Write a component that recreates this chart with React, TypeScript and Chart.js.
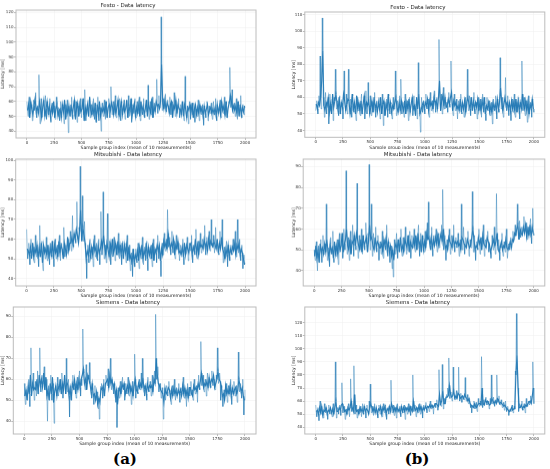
import { useEffect, useRef } from "react";
import { Chart, registerables } from "chart.js";

Chart.register(...registerables);

// values read every 10 sample groups (index 0, 10, ... 2000) plus the
// in-between groups (index 5, 15, ... 1995)
const STEP = 10;
const xTicks = [0, 250, 500, 750, 1000, 1250, 1500, 1750, 2000];

const festoA = [
  60, 50, 63, 52, 58, 47, 61, 54, 66, 49,
  57, 78, 45, 62, 50, 60, 53, 64, 48, 58,
  51, 62, 46, 59, 53, 57, 48, 63, 52, 56,
  47, 60, 51, 57, 45, 58, 50, 61, 39, 55,
  52, 63, 48, 58, 50, 60, 46, 57, 52, 62,
  49, 59, 51, 68, 47, 57, 53, 61, 49, 58,
  52, 62, 48, 57, 51, 63, 47, 56, 40, 59,
  50, 61, 48, 58, 53, 62, 49, 70, 51, 60,
  53, 64, 49, 58, 51, 62, 47, 59, 52, 61,
  48, 57, 53, 64, 50, 59, 46, 58, 52, 62,
  49, 60, 52, 63, 47, 58, 51, 62, 49, 57,
  53, 71, 48, 60, 51, 63, 50, 59, 54, 75,
  52, 64, 56, 117, 54, 62, 57, 65, 53, 61,
  55, 63, 51, 60, 54, 66, 50, 58, 53, 62,
  49, 58, 52, 56, 47, 77, 51, 57, 45, 60,
  48, 56, 51, 59, 46, 55, 50, 61, 47, 57,
  51, 58, 44, 56, 49, 60, 47, 57, 52, 59,
  48, 60, 51, 62, 47, 58, 53, 61, 49, 57,
  52, 63, 50, 58, 54, 60, 83, 56, 68, 52,
  59, 50, 62, 48, 57, 53, 64, 49, 58, 51,
  56,
];
const festoAHalf = [
  54, 58, 49, 60, 55, 51, 57, 62, 53, 56,
  52, 60, 55, 49, 56, 61, 50, 55, 60, 52,
  57, 50, 56, 52, 60, 49, 55, 58, 50, 54,
  55, 49, 58, 53, 61, 48, 56, 52, 57, 50,
  58, 51, 56, 61, 48, 55, 59, 50, 58, 53,
  55, 62, 47, 56, 52, 58, 50, 63, 54, 51,
  57, 50, 59, 46, 58, 52, 60, 50, 55, 53,
  56, 52, 60, 49, 56, 58, 54, 59, 56, 51,
  58, 52, 56, 61, 50, 55, 60, 51, 57, 53,
  55, 61, 49, 57, 53, 62, 51, 56, 59, 50,
  56, 52, 58, 50, 60, 53, 57, 51, 55, 61,
  50, 58, 55, 52, 62, 49, 57, 53, 60, 57,
  58, 55, 60, 85, 59, 55, 61, 54, 59, 57,
  52, 58, 60, 49, 57, 55, 61, 52, 58, 55,
  55, 51, 60, 50, 58, 55, 49, 56, 54, 58,
  53, 59, 49, 55, 58, 51, 56, 52, 58, 53,
  56, 50, 57, 52, 55, 58, 51, 54, 56, 52,
  55, 52, 56, 50, 58, 52, 57, 51, 60, 54,
  57, 51, 60, 49, 56, 59, 64, 60, 54, 57,
  54, 57, 52, 60, 50, 58, 51, 56, 53, 57,
];

const festoB = [
  52, 58, 50, 61, 85, 53, 108, 60, 48, 63,
  50, 57, 44, 62, 52, 59, 46, 60, 77, 53,
  58, 49, 61, 52, 57, 47, 76, 55, 62, 50,
  77, 53, 59, 48, 61, 51, 57, 46, 60, 52,
  56, 49, 62, 53, 58, 47, 64, 50, 69, 55,
  61, 49, 57, 52, 63, 48, 58, 51, 60, 47,
  55, 62, 43, 57, 51, 59, 48, 61, 50, 56,
  47, 60, 53, 76, 49, 58, 52, 61, 71, 50,
  57, 48, 62, 52, 58, 46, 60, 53, 57, 49,
  61, 52, 56, 47, 81, 54, 39, 60, 51, 58,
  50, 62, 53, 59, 48, 63, 52, 58, 55, 64,
  51, 60, 54, 95, 56, 62, 50, 66, 53, 60,
  57, 51, 63, 54, 82, 56, 49, 62, 52, 59,
  47, 58, 53, 62, 50, 57, 48, 60, 54, 77,
  52, 61, 49, 58, 55, 63, 50, 57, 47, 60,
  53, 59, 48, 62, 51, 56, 46, 60, 52, 58,
  49, 57, 44, 59, 52, 61, 47, 56, 51, 84,
  53, 60, 48, 58, 72, 52, 61, 49, 57, 46,
  59, 51, 62, 48, 57, 53, 60, 47, 56, 82,
  52, 60, 49, 58, 45, 61, 50, 57, 48, 55,
  51,
];
const festoBHalf = [
  56, 53, 57, 55, 60, 70, 88, 55, 52, 57,
  55, 60, 51, 56, 50, 62, 54, 58, 62, 57,
  52, 60, 50, 57, 54, 62, 58, 52, 56, 59,
  58, 50, 55, 62, 52, 57, 50, 61, 53, 57,
  52, 58, 50, 56, 61, 53, 57, 55, 58, 50,
  54, 58, 51, 60, 53, 56, 51, 57, 53, 60,
  50, 56, 58, 49, 56, 53, 62, 52, 57, 51,
  55, 53, 57, 60, 54, 51, 57, 52, 58, 55,
  52, 58, 50, 57, 53, 59, 51, 56, 60, 53,
  55, 49, 60, 53, 62, 50, 52, 55, 57, 53,
  57, 55, 59, 52, 58, 55, 57, 53, 61, 56,
  58, 53, 60, 70, 52, 58, 61, 55, 60, 54,
  55, 59, 56, 60, 63, 52, 58, 55, 57, 53,
  55, 52, 59, 51, 57, 53, 58, 51, 57, 60,
  56, 53, 60, 52, 58, 53, 57, 54, 59, 52,
  57, 52, 58, 54, 60, 50, 55, 53, 57, 51,
  55, 51, 57, 53, 56, 52, 59, 53, 57, 66,
  57, 52, 56, 60, 55, 57, 53, 57, 52, 58,
  53, 57, 52, 59, 51, 58, 52, 57, 53, 62,
  56, 53, 58, 52, 57, 50, 56, 53, 59, 53,
];

const mitsubishiA = [
  65, 50, 58, 47, 60, 52, 56, 48, 62, 51,
  57, 46, 67, 52, 59, 44, 56, 50, 61, 49,
  55, 47, 58, 51, 54, 46, 60, 50, 57, 53,
  62, 49, 58, 52, 66, 51, 57, 53, 60, 55,
  64, 54, 72, 56, 63, 58, 79, 60, 66, 97,
  62, 82, 59, 69, 55, 40, 57, 48, 60, 50,
  56, 46, 62, 51, 58, 49, 60, 47, 74, 52,
  84, 50, 57, 48, 73, 53, 59, 47, 56, 51,
  61, 49, 57, 52, 63, 50, 56, 47, 59, 53,
  58, 48, 62, 51, 57, 44, 53, 41, 50, 46,
  55, 48, 58, 45, 53, 50, 61, 47, 56, 49,
  59, 44, 54, 50, 57, 46, 60, 52, 55, 48,
  62, 50, 57, 41, 58, 52, 63, 54, 60, 75,
  56, 61, 52, 64, 53, 59, 50, 62, 55, 58,
  49, 57, 52, 60, 47, 56, 53, 61, 49, 58,
  54, 62, 48, 57, 52, 65, 50, 59, 55, 63,
  53, 60, 56, 67, 52, 61, 57, 64, 54, 70,
  58, 62, 53, 66, 56, 60, 52, 64, 57, 70,
  48, 56, 51, 59, 46, 53, 49, 57, 52, 60,
  55, 64, 51, 70, 53, 60, 49, 57, 45, 52,
  48,
];
const mitsubishiAHalf = [
  55, 54, 52, 56, 50, 58, 51, 55, 53, 57,
  50, 56, 51, 58, 48, 57, 53, 55, 52, 57,
  50, 56, 52, 59, 50, 57, 53, 55, 51, 59,
  53, 57, 55, 50, 58, 55, 52, 61, 54, 58,
  58, 61, 57, 63, 60, 65, 62, 58, 64, 75,
  59, 66, 62, 58, 50, 54, 52, 57, 51, 56,
  52, 58, 54, 56, 50, 57, 53, 55, 59, 56,
  62, 56, 52, 58, 55, 51, 58, 54, 60, 53,
  55, 58, 52, 59, 53, 57, 52, 58, 50, 57,
  53, 57, 49, 56, 50, 52, 47, 55, 48, 52,
  50, 54, 49, 56, 52, 57, 50, 54, 52, 58,
  50, 56, 52, 55, 50, 58, 49, 55, 53, 57,
  54, 57, 49, 55, 52, 59, 56, 58, 55, 63,
  59, 55, 58, 56, 60, 52, 57, 55, 59, 53,
  54, 52, 56, 51, 58, 52, 57, 55, 53, 57,
  58, 52, 56, 54, 60, 53, 57, 52, 58, 56,
  57, 55, 60, 56, 58, 54, 60, 56, 59, 57,
  56, 59, 57, 55, 60, 53, 58, 55, 61, 55,
  53, 50, 55, 52, 57, 51, 55, 53, 56, 54,
  58, 52, 57, 55, 58, 52, 55, 53, 50, 47,
];

const mitsubishiB = [
  50, 45, 54, 40, 52, 47, 55, 44, 57, 48,
  53, 72, 45, 51, 42, 56, 48, 59, 44, 52,
  47, 55, 43, 58, 49, 54, 46, 60, 50, 88,
  48, 56, 45, 59, 51, 62, 47, 55, 50, 82,
  46, 57, 52, 60, 48, 55, 50, 63, 53, 58,
  91, 50, 72, 47, 58, 53, 61, 49, 57, 45,
  54, 48, 59, 46, 55, 50, 62, 47, 53, 44,
  52, 41, 37, 55, 48, 58, 46, 54, 51, 60,
  47, 56, 50, 61, 48, 55, 52, 59, 46, 57,
  51, 60, 49, 56, 53, 62, 47, 58, 52, 55,
  49, 59, 53, 63, 73, 55, 50, 61, 47, 57,
  53, 60, 49, 58, 51, 56, 62, 79, 50, 57,
  45, 55, 52, 60, 48, 57, 53, 62, 49, 56,
  51, 58, 47, 55, 72, 50, 61, 48, 56, 52,
  59, 47, 55, 51, 78, 49, 57, 45, 54, 50,
  60, 48, 56, 52, 62, 47, 55, 51, 59, 49,
  53, 46, 57, 50, 61, 48, 77, 52, 55, 45,
  51, 58, 47, 54, 49, 60, 46, 53, 50, 56,
  52, 59, 55, 62, 57, 72, 58, 64, 56, 61,
  57, 66, 59, 63, 55, 61, 58, 65, 53, 70,
  57,
];
const mitsubishiBHalf = [
  47, 52, 46, 50, 44, 53, 49, 51, 48, 53,
  49, 55, 50, 46, 53, 49, 51, 46, 54, 48,
  52, 48, 55, 50, 52, 58, 49, 53, 55, 60,
  52, 50, 55, 48, 54, 53, 57, 52, 58, 55,
  52, 50, 55, 49, 57, 52, 54, 56, 49, 54,
  62, 55, 56, 52, 50, 56, 51, 54, 53, 51,
  51, 53, 49, 55, 52, 56, 50, 54, 49, 52,
  47, 50, 45, 51, 53, 50, 55, 49, 56, 50,
  52, 49, 55, 53, 51, 57, 49, 54, 52, 51,
  55, 52, 57, 50, 58, 52, 54, 49, 57, 50,
  54, 51, 58, 55, 56, 52, 56, 50, 55, 52,
  56, 53, 57, 52, 55, 58, 54, 60, 55, 51,
  52, 50, 56, 54, 53, 51, 57, 52, 54, 53,
  54, 52, 53, 50, 56, 55, 53, 52, 51, 55,
  53, 51, 52, 56, 60, 55, 50, 52, 51, 56,
  53, 55, 50, 57, 53, 52, 51, 56, 54, 53,
  49, 51, 53, 55, 52, 54, 58, 50, 49, 52,
  54, 50, 52, 51, 55, 51, 50, 52, 54, 51,
  55, 54, 58, 57, 60, 62, 55, 60, 58, 57,
  61, 58, 62, 56, 60, 57, 62, 56, 61, 58,
];

const siemensA = [
  58, 48, 55, 52, 60, 47, 75, 56, 63, 50,
  59, 52, 64, 56, 75, 54, 62, 58, 66, 55,
  60, 40, 57, 53, 62, 50, 58, 39, 56, 54,
  61, 52, 58, 55, 63, 51, 59, 56, 70, 54,
  60, 42, 57, 53, 62, 55, 58, 51, 61, 56,
  64, 52, 57, 84, 63, 55, 67, 58, 62, 68,
  57, 51, 55, 48, 57, 50, 54, 46, 41, 53,
  58, 51, 60, 54, 62, 57, 65, 59, 70, 55,
  60, 53, 57, 49, 37, 56, 51, 59, 54, 61,
  55, 50, 58, 53, 61, 52, 57, 48, 59, 54,
  72, 51, 57, 53, 60, 55, 63, 70, 58, 52,
  56, 50, 61, 54, 59, 52, 62, 57, 64, 91,
  60, 66, 54, 58, 51, 56, 41, 53, 50, 57,
  52, 59, 54, 48, 57, 53, 60, 50, 56, 52,
  58, 49, 56, 53, 61, 51, 55, 47, 58, 54,
  52, 59, 55, 50, 60, 53, 57, 49, 62, 55,
  78, 57, 62, 54, 60, 52, 63, 58, 61, 56,
  64, 57, 60, 55, 62, 75, 58, 63, 50, 56,
  47, 55, 52, 58, 49, 57, 53, 60, 48, 55,
  59, 52, 57, 49, 73, 54, 58, 51, 60, 43,
  55,
];
const siemensAHalf = [
  52, 55, 50, 57, 53, 62, 52, 58, 55, 56,
  55, 60, 53, 62, 57, 60, 56, 63, 55, 61,
  52, 55, 50, 58, 53, 61, 49, 54, 57, 52,
  57, 55, 60, 53, 58, 55, 62, 53, 59, 57,
  52, 56, 50, 58, 56, 60, 53, 58, 55, 60,
  56, 60, 62, 65, 58, 60, 55, 62, 60, 58,
  54, 58, 52, 53, 50, 54, 48, 51, 49, 56,
  55, 57, 52, 58, 59, 60, 56, 62, 58, 60,
  56, 58, 52, 55, 48, 54, 56, 53, 58, 56,
  58, 53, 55, 57, 54, 58, 54, 56, 52, 57,
  60, 55, 54, 58, 56, 58, 56, 61, 55, 57,
  53, 58, 55, 57, 56, 57, 54, 60, 58, 70,
  62, 58, 57, 55, 54, 53, 49, 56, 53, 54,
  56, 55, 51, 55, 52, 56, 53, 55, 52, 55,
  53, 55, 52, 57, 53, 56, 52, 55, 51, 56,
  56, 53, 52, 57, 55, 56, 54, 58, 56, 59,
  63, 60, 56, 58, 57, 59, 56, 61, 57, 60,
  59, 62, 56, 58, 60, 64, 60, 59, 57, 52,
  53, 50, 57, 53, 55, 53, 57, 52, 56, 53,
  55, 56, 53, 55, 60, 57, 54, 56, 52, 50,
];

const siemensB = [
  57, 48, 55, 45, 60, 50, 53, 47, 58, 51,
  54, 46, 57, 50, 55, 48, 58, 52, 90, 47,
  55, 50, 57, 49, 74, 51, 56, 46, 54, 50,
  58, 48, 77, 52, 55, 87, 50, 57, 47, 54,
  51, 56, 48, 58, 50, 54, 47, 57, 52, 60,
  73, 51, 56, 49, 58, 52, 55, 47, 57, 50,
  54, 48, 58, 51, 57, 46, 55, 50, 53, 76,
  51, 57, 49, 55, 47, 58, 52, 56, 48, 54,
  51, 57, 46, 55, 50, 58, 53, 49, 56, 80,
  52, 57, 48, 55, 51, 58, 50, 54, 47, 57,
  53, 59, 51, 56, 52, 60, 54, 57, 50, 58,
  55, 61, 53, 84, 57, 56, 88, 54, 62, 58,
  65, 70, 93, 62, 67, 60, 86, 64, 61, 68,
  63, 86, 60, 66, 59, 64, 61, 78, 60, 65,
  58, 62, 55, 51, 57, 60, 54, 59, 52, 62,
  56, 60, 94, 55, 61, 58, 63, 57, 60, 54,
  62, 80, 58, 63, 56, 61, 80, 59, 64, 57,
  61, 55, 59, 53, 60, 52, 56, 49, 54, 52,
  57, 51, 56, 83, 127, 86, 52, 58, 55, 60,
  53, 58, 51, 62, 56, 60, 57, 64, 59, 90,
  58,
];
const siemensBHalf = [
  52, 53, 50, 55, 51, 56, 49, 53, 52, 55,
  50, 53, 52, 55, 51, 54, 50, 55, 60, 52,
  52, 55, 53, 57, 58, 55, 52, 53, 50, 55,
  53, 55, 60, 55, 52, 65, 54, 52, 53, 50,
  55, 52, 54, 51, 56, 52, 54, 53, 50, 55,
  58, 55, 52, 55, 51, 55, 50, 54, 53, 56,
  50, 55, 53, 56, 50, 54, 53, 56, 52, 58,
  55, 52, 55, 52, 56, 52, 54, 51, 56, 52,
  55, 52, 55, 53, 55, 52, 56, 54, 52, 60,
  55, 53, 55, 52, 56, 53, 56, 52, 55, 53,
  56, 54, 56, 55, 57, 55, 57, 55, 56, 58,
  58, 57, 56, 65, 58, 60, 68, 58, 58, 63,
  63, 64, 72, 66, 63, 64, 68, 62, 64, 62,
  66, 65, 62, 63, 64, 62, 65, 63, 62, 60,
  62, 58, 57, 56, 55, 58, 56, 55, 57, 58,
  58, 57, 70, 58, 57, 61, 59, 60, 58, 57,
  58, 62, 60, 58, 60, 58, 62, 61, 58, 59,
  58, 57, 56, 57, 55, 54, 53, 52, 53, 55,
  53, 54, 54, 80, 95, 70, 55, 55, 57, 54,
  56, 55, 57, 56, 58, 59, 60, 58, 64, 70,
];

const yTicks120 = [40, 50, 60, 70, 80, 90, 100, 110, 120];
const yTicks110 = [40, 50, 60, 70, 80, 90, 100, 110];
const yTicks100 = [40, 50, 60, 70, 80, 90, 100];
const yTicks90 = [40, 50, 60, 70, 80, 90];

const framePlugin = {
  id: "frame",
  afterDatasetsDraw(chart: Chart) {
    const { ctx, chartArea } = chart;
    ctx.save();
    ctx.strokeStyle = "#bcbcbc";
    ctx.lineWidth = 1;
    ctx.strokeRect(chartArea.left, chartArea.top, chartArea.right - chartArea.left, chartArea.bottom - chartArea.top);
    ctx.restore();
  },
};

type PanelProps = {
  title: string;
  values: number[];
  halfValues: number[];
  yMin: number;
  yMax: number;
  yTicks: number[];
  // plot area in page pixels
  left: number;
  top: number;
  right: number;
  bottom: number;
  canvasLeft: number;
};

const TOP_SPACE = 10;
const X_AXIS_H = 12.5;
const RIGHT_SPACE = 6;

function Panel(props: PanelProps) {
  const canvasRef = useRef<HTMLCanvasElement | null>(null);

  useEffect(() => {
    if (!canvasRef.current) return;
    const allPoints: { x: number; y: number }[] = [];
    props.values.forEach((v, i) => {
      allPoints.push({ x: i * STEP, y: v });
      if (i < props.halfValues.length) allPoints.push({ x: i * STEP + STEP / 2, y: props.halfValues[i] });
    });
    const halfPoints = props.halfValues.map((v, i) => ({ x: i * STEP + STEP / 2, y: v }));
    const font = { family: "'DejaVu Sans', sans-serif" };
    const plain = (v: number | string) => String(v);

    const chart = new Chart(canvasRef.current, {
      type: "line",
      data: {
        datasets: [
          {
            // darker core
            data: halfPoints,
            borderColor: "rgba(31, 119, 180, 0.9)",
            borderWidth: 1.15,
            pointRadius: 0,
            tension: 0,
            fill: false,
          },
          {
            // light full-range trace
            data: allPoints,
            borderColor: "rgba(31, 119, 180, 0.45)",
            borderWidth: 1,
            pointRadius: 0,
            tension: 0,
            fill: false,
          },
        ],
      },
      options: {
        animation: false,
        responsive: true,
        maintainAspectRatio: false,
        layout: { padding: { left: 0, right: RIGHT_SPACE, top: 0, bottom: 0 } },
        plugins: {
          legend: { display: false },
          tooltip: { enabled: false },
          title: {
            display: true,
            text: props.title,
            color: "#222",
            font: { ...font, size: 5.5, weight: "normal", lineHeight: 1 },
            padding: { top: TOP_SPACE - 4.8 - 2.75, bottom: 4.8 - 2.75 },
          },
        },
        scales: {
          x: {
            type: "linear",
            min: -100,
            max: 2100,
            afterBuildTicks: (axis) => {
              axis.ticks = xTicks.map((v) => ({ value: v }));
            },
            afterFit: (scale) => {
              scale.height = X_AXIS_H;
            },
            ticks: { color: "#333", font: { ...font, size: 4 }, padding: 0.5, maxRotation: 0, autoSkip: false, callback: plain },
            grid: { color: "#eeeeee", lineWidth: 0.5, tickLength: 2, tickColor: "#777", tickWidth: 0.5 },
            border: { display: false },
            title: {
              display: true,
              text: "Sample group index (mean of 10 measurements)",
              color: "#222",
              font: { ...font, size: 4.5, lineHeight: 1 },
              padding: 0,
            },
          },
          y: {
            type: "linear",
            min: props.yMin,
            max: props.yMax,
            afterBuildTicks: (axis) => {
              axis.ticks = props.yTicks.map((v) => ({ value: v }));
            },
            afterFit: (scale) => {
              scale.width = props.left - props.canvasLeft;
            },
            ticks: { color: "#333", font: { ...font, size: 4 }, padding: 0.5, autoSkip: false, callback: plain },
            grid: { color: "#eeeeee", lineWidth: 0.5, tickLength: 2, tickColor: "#777", tickWidth: 0.5 },
            border: { display: false },
            title: {
              display: true,
              text: "Latency [ms]",
              color: "#222",
              font: { ...font, size: 4.5, lineHeight: 1 },
              padding: { top: 0.5, bottom: 0 },
            },
          },
        },
      },
      plugins: [framePlugin],
    });

    return () => {
      chart.destroy();
    };
  }, [props]);

  const style: React.CSSProperties = {
    position: "absolute",
    left: props.canvasLeft,
    top: props.top - TOP_SPACE,
    width: props.right + RIGHT_SPACE - props.canvasLeft,
    height: props.bottom - props.top + TOP_SPACE + X_AXIS_H + 1,
  };

  return (
    <div style={style}>
      <canvas ref={canvasRef} />
    </div>
  );
}

const labelStyle: React.CSSProperties = {
  position: "absolute",
  top: 450,
  width: 40,
  textAlign: "center",
  fontFamily: "'DejaVu Serif', serif",
  fontWeight: "bold",
  fontSize: 15,
  lineHeight: "18px",
  color: "#000",
};

export default function App() {
  return (
    <div style={{ position: "absolute", left: 0, top: 0, width: 550, height: 469, background: "#fff", overflow: "hidden" }}>
      <Panel title="Festo - Data latency" values={festoA} halfValues={festoAHalf} yMin={35.4} yMax={121.6} yTicks={yTicks120}
        left={16} top={10} right={256} bottom={136} canvasLeft={0} />
      <Panel title="Festo - Data latency" values={festoB} halfValues={festoBHalf} yMin={35.9} yMax={111.6} yTicks={yTicks110}
        left={304.3} top={11.7} right={544.3} bottom={136} canvasLeft={290.5} />
      <Panel title="Mitsubishi - Data latency" values={mitsubishiA} halfValues={mitsubishiAHalf} yMin={36.2} yMax={100.7} yTicks={yTicks100}
        left={15.7} top={159.3} right={256} bottom={284.3} canvasLeft={0} />
      <Panel title="Mitsubishi - Data latency" values={mitsubishiB} halfValues={mitsubishiBHalf} yMin={32.7} yMax={93.6} yTicks={yTicks90}
        left={302.7} top={159.3} right={544.3} bottom={284.3} canvasLeft={290.5} />
      <Panel title="Siemens - Data latency" values={siemensA} halfValues={siemensAHalf} yMin={33.9} yMax={94.5} yTicks={yTicks90}
        left={13.3} top={306.7} right={256} bottom={432.7} canvasLeft={0} />
      <Panel title="Siemens - Data latency" values={siemensB} halfValues={siemensBHalf} yMin={34.8} yMax={132} yTicks={yTicks120}
        left={304.3} top={306.7} right={544.3} bottom={432.7} canvasLeft={290.5} />
      <div style={{ ...labelStyle, left: 105 }}>(a)</div>
      <div style={{ ...labelStyle, left: 397 }}>(b)</div>
    </div>
  );
}
